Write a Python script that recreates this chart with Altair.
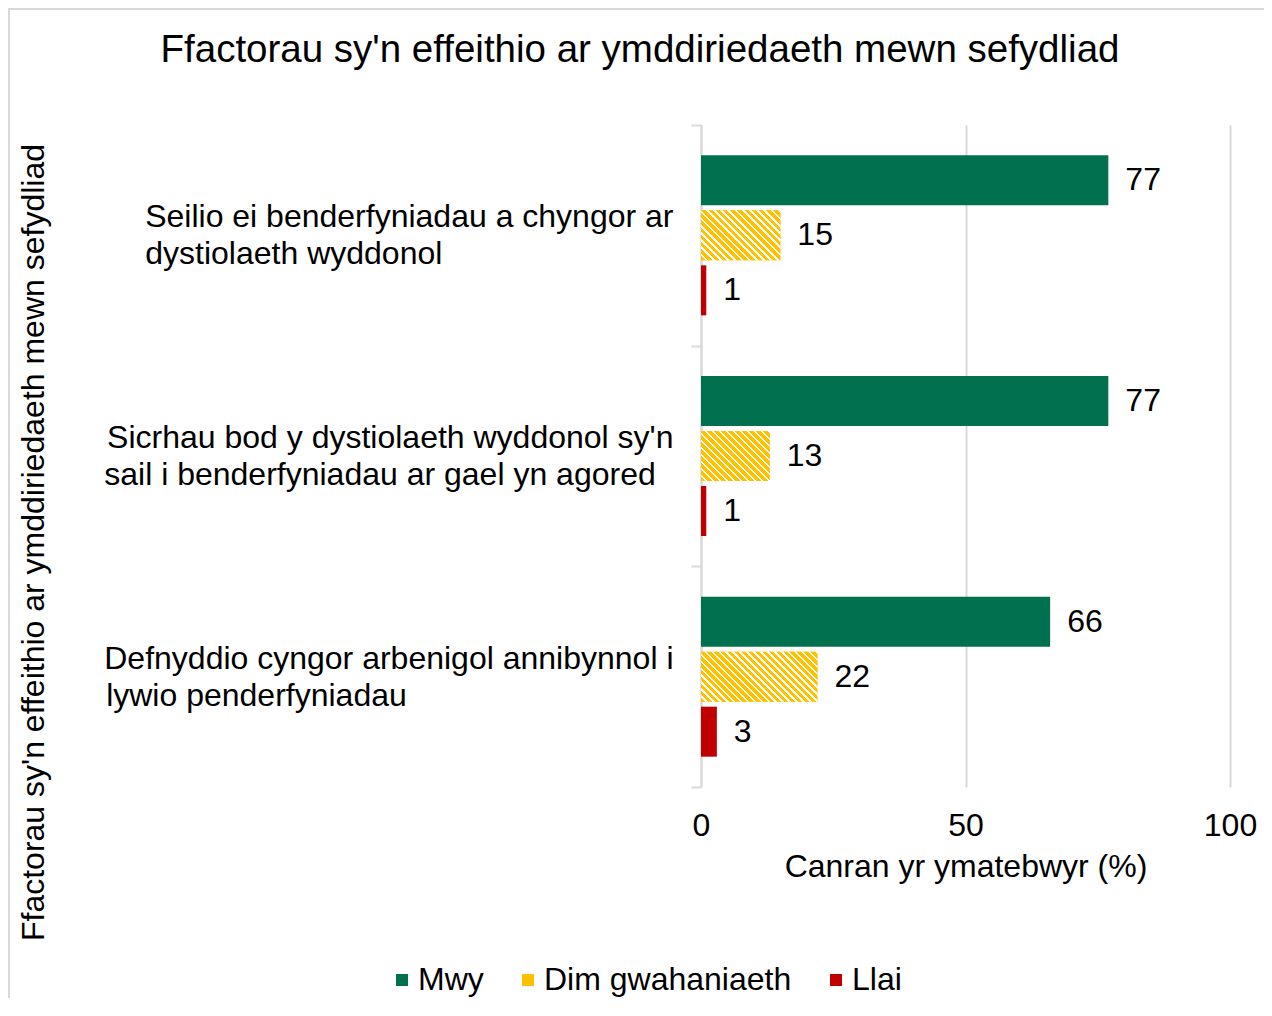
import math
import altair as alt
import pandas as pd

# ---------------- data ----------------
title_text = "Ffactorau sy'n effeithio ar ymddiriedaeth mewn sefydliad"
y_title = "Ffactorau sy'n effeithio ar ymddiriedaeth mewn sefydliad"
x_title = "Canran yr ymatebwyr (%)"
label_lines = [
    ["Seilio ei benderfyniadau a chyngor ar", "dystiolaeth wyddonol"],
    ["Sicrhau bod y dystiolaeth wyddonol sy'n", "sail i benderfyniadau ar gael yn agored"],
    ["Defnyddio cyngor arbenigol annibynnol i", "lywio penderfyniadau"],
]
series = ["Mwy", "Dim gwahaniaeth", "Llai"]
mwy = [77, 77, 66]
dim_gwahaniaeth = [15, 13, 22]
llai = [1, 1, 3]
x_ticks = [0, 50, 100]

GREEN = "#00704E"
YELLOW = "#FFC000"
RED = "#C00000"
GRID = "#D9D9D9"
FONT = "Liberation Sans"
colors = [GREEN, YELLOW, RED]

PLOT_W = 529
PLOT_H = 662
BAR_H = 50

# Arial / Helvetica advance widths (per 1000 em) to left-align the 2nd label line
W = {' ': 278, "'": 191, 'a': 556, 'b': 556, 'c': 500, 'd': 556, 'e': 556, 'f': 278,
     'g': 556, 'h': 556, 'i': 222, 'j': 222, 'k': 500, 'l': 222, 'm': 833, 'n': 556,
     'o': 556, 'p': 556, 'q': 556, 'r': 333, 's': 500, 't': 278, 'u': 556, 'v': 500,
     'w': 722, 'x': 500, 'y': 500, 'z': 500, 'S': 667, 'D': 722}


def text_w(s):
    return sum(W.get(ch, 556) for ch in s)


labels = []
for l1, l2 in label_lines:
    n = max(0, round((text_w(l1) - text_w(l2)) / 278))
    # trailing no-break spaces, protected from trimming by a zero-width space
    labels.append(l1 + "|" + l2 + "\u00a0" * n + "\u200b")

rows = []
for i, lab in enumerate(labels):
    for s, vals in zip(series, [mwy, dim_gwahaniaeth, llai]):
        rows.append({"idx": i, "label": lab, "series": s, "value": vals[i]})
df = pd.DataFrame(rows)


def stripe_fill(value, period=5.0, yellow_frac=0.62):
    w = value / 100 * PLOT_W
    h = BAR_H
    k = (w + h) / (w * w + h * h)
    x2 = k * w
    y2 = 1 - k * h
    L = (w + h) / math.sqrt(2)
    n = max(1, round(L / period))
    stops = []
    for j in range(n):
        a = j / n
        b = (j + yellow_frac) / n
        c = (j + 1) / n
        stops += [
            {"offset": round(a, 5), "color": YELLOW},
            {"offset": round(b, 5), "color": YELLOW},
            {"offset": round(b, 5), "color": "#FFFFFF"},
            {"offset": round(c, 5), "color": "#FFFFFF"},
        ]
    return {"gradient": "linear", "x1": 0, "y1": 1,
            "x2": round(x2, 5), "y2": round(y2, 5), "stops": stops}


y_enc = alt.Y(
    "label:N",
    sort=labels,
    scale=alt.Scale(domain=labels, paddingInner=0, paddingOuter=0),
    axis=alt.Axis(
        title=y_title,
        titleFontSize=32,
        titleFontWeight="normal",
        titleColor="#000000",
        titleFont=FONT,
        titleAngle=270,
        titleX=-658,
        titleY=417,
        titleAlign="center",
        titleBaseline="alphabetic",
        labelExpr="split(datum.label, '|')",
        labelFontSize=32,
        labelFont=FONT,
        labelColor="#000000",
        labelLineHeight=37,
        labelPadding=18,
        labelOffset=-18.5,
        labelAlign="right",
        labelBaseline="middle",
        labelLimit=2000,
        tickSize=10,
        tickColor=GRID,
        tickWidth=2,
        tickBand="extent",
        domainColor=GRID,
        domainWidth=2,
        grid=False,
    ),
)
yoff_enc = alt.YOffset(
    "series:N",
    sort=series,
    scale=alt.Scale(domain=series, paddingInner=5 / 55, paddingOuter=0.5515),
)
x_enc = alt.X(
    "value:Q",
    scale=alt.Scale(domain=[0, 100], nice=False),
    axis=alt.Axis(
        values=x_ticks,
        title=x_title,
        titleFontSize=32,
        titleFontWeight="normal",
        titleColor="#000000",
        titleFont=FONT,
        titlePadding=10,
        labelFontSize=32,
        labelFont=FONT,
        labelColor="#000000",
        labelPadding=23,
        labelFlush=False,
        domain=False,
        ticks=False,
        grid=True,
        gridColor=GRID,
        gridWidth=2,
    ),
)

border = alt.Chart(alt.Data(values=[{"b": 1}])).mark_rect(
    fillOpacity=0, stroke=GRID, strokeWidth=2
).encode(
    x=alt.value(-692), x2=alt.value(700), y=alt.value(-116), y2=alt.value(1000)
)

title = alt.Chart(alt.Data(values=[{"t": title_text}])).mark_text(
    align="center", baseline="alphabetic", fontSize=38.5, font=FONT, color="#000000"
).encode(x=alt.value(-61), y=alt.value(-63), text="t:N")

bars = alt.Chart(df).mark_bar().encode(
    x=x_enc,
    y=y_enc,
    yOffset=yoff_enc,
    color=alt.Color(
        "series:N",
        sort=series,
        scale=alt.Scale(domain=series, range=colors),
        legend=alt.Legend(
            title=None,
            orient="none",
            legendX=-315,
            legendY=839,
            direction="horizontal",
            symbolType="square",
            symbolSize=144,
            symbolStrokeWidth=0,
            labelFontSize=32,
            labelFont=FONT,
            labelColor="#000000",
            labelOffset=0,
            labelLimit=2000,
            columnPadding=28,
        ),
    ),
)

stripe_layers = []
for i in range(len(labels)):
    stripe_layers.append(
        alt.Chart(df)
        .transform_filter(alt.FieldEqualPredicate(field="idx", equal=i))
        .transform_filter(alt.FieldEqualPredicate(field="series", equal="Dim gwahaniaeth"))
        .mark_bar(fill=stripe_fill(dim_gwahaniaeth[i]))
        .encode(x="value:Q", y=alt.Y("label:N", sort=labels), yOffset=alt.YOffset("series:N", sort=series))
    )

text = alt.Chart(df).mark_text(
    align="left", baseline="middle", dx=17, fontSize=32, font=FONT, color="#000000"
).encode(
    x="value:Q",
    y=alt.Y("label:N", sort=labels),
    yOffset=alt.YOffset("series:N", sort=series),
    text="value:Q",
)

chart = alt.layer(border, title, bars, *stripe_layers, text).properties(
    width=PLOT_W,
    height=PLOT_H,
    padding={"left": 693, "top": 117, "right": 34, "bottom": 211},
    autosize=alt.AutoSizeParams(type="none"),
    background="#FFFFFF",
).configure(font=FONT).configure_view(stroke="transparent")

chart.save("out.html", embed_options={"renderer": "svg", "actions": False})
